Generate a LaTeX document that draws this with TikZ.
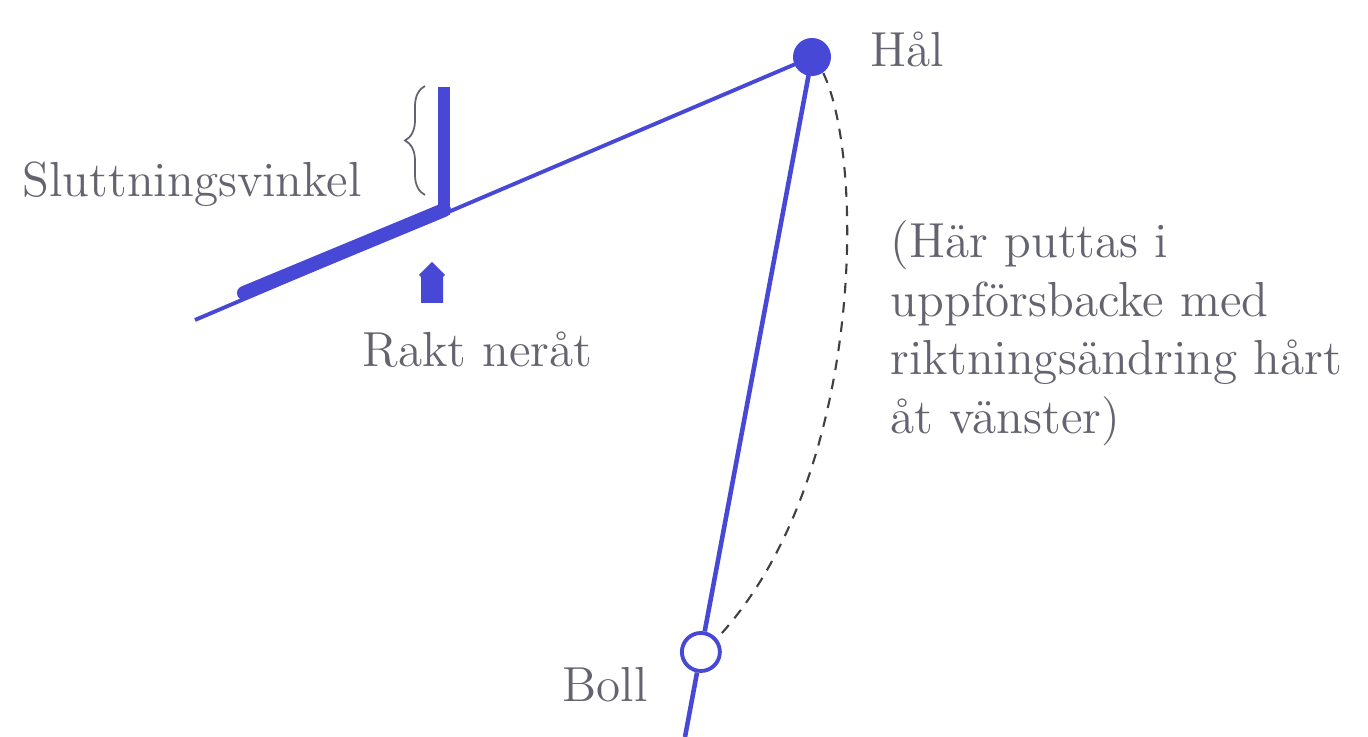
\documentclass[tikz,border=0pt]{standalone}
\usepackage{fontspec}
\usetikzlibrary{calc,decorations.pathreplacing}

\definecolor{putblue}{RGB}{72,72,215}
\definecolor{txtgray}{RGB}{100,100,112}

\tikzset{
  label text/.style={text=txtgray, font=\fontsize{14}{16.7}\selectfont, inner sep=0pt},
  thin line/.style={putblue, line width=1.1pt},
}

\begin{document}
\begin{tikzpicture}
    \useasboundingbox (0,0) rectangle (13.68,7.37);

    % punkter
    \coordinate (slopestart) at (1.95,4.17);
    \coordinate (bottom) at (6.85,0);
    \node[circle, fill=putblue, minimum size=0.38cm, inner sep=0pt] (hal) at (8.12,6.80) {};
    \node[circle, draw=putblue, line width=1.1pt, minimum size=0.38cm, inner sep=0pt]
        (boll) at ($(bottom)!0.125!(hal)$) {};

    % lutningen mot hålet
    \draw[thin line] (slopestart) -- (hal.center);
    \draw[putblue, line width=4pt, line cap=round] (2.44,4.44) -- (4.44,5.27);
    \draw[putblue, line width=3.4pt] (4.44,5.22) -- (4.44,6.50);
    \draw[txtgray, line width=0.5pt, decorate, decoration={brace, amplitude=0.2cm}]
        (4.25,5.42) -- (4.25,6.51);

    % pil rakt ner
    \fill[putblue] (4.21,4.34) -- (4.21,4.60) -- (4.19,4.62) -- (4.32,4.75)
                -- (4.45,4.62) -- (4.43,4.60) -- (4.43,4.34) -- cycle;

    % puttlinjen och bollbanan
    \draw[thin line, line width=1.3pt] (hal.center) -- (boll) -- (bottom);
    \draw[black!75, line width=0.6pt, dash pattern=on 3pt off 2.5pt]
        (hal.-55) .. controls (8.65,5.77) and (8.65,2.57) .. (boll.40);

    % texter
    \node[label text, anchor=base west] (vinkel) at (0.22,5.40) {Sluttningsvinkel};
    \node[label text, anchor=base west] (nerat) at (3.62,3.70) {Rakt neråt};
    \node[label text, anchor=base west] (haltext) at (8.70,6.70) {Hål};
    \node[label text, anchor=base west] (bolltext) at (5.62,0.35) {Boll};
    \node[label text, anchor=north west, align=left] (kommentar) at (8.90,5.17)
        {(Här puttas i\\uppförsbacke med\\riktningsändring hårt\\åt vänster)};
\end{tikzpicture}
\end{document}
